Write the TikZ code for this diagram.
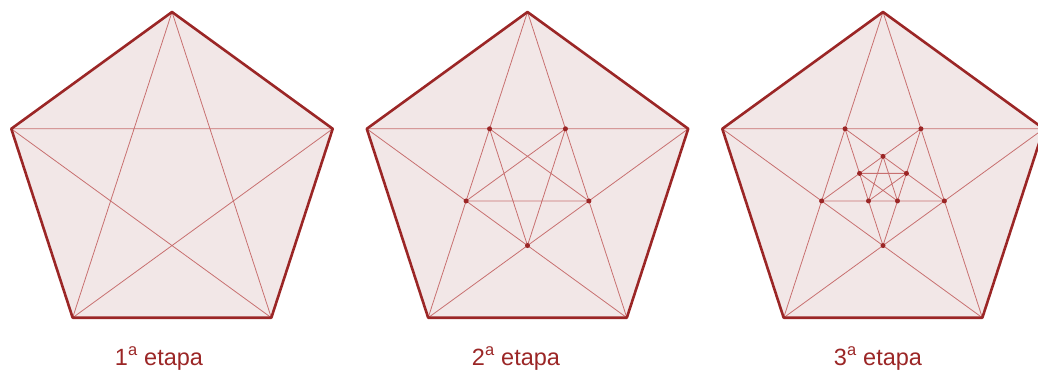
\documentclass[tikz,border=0pt]{standalone}
\usepackage{fontspec}
\setmainfont{Liberation Sans}
\usepackage{tikz}
\usetikzlibrary{calc}
\usepackage{xcolor}
\definecolor{edgeRed}{RGB}{155, 38, 38}
\definecolor{lineRed}{RGB}{200, 112, 112}
\definecolor{fillPink}{RGB}{242, 231, 231}

\begin{document}
\begin{tikzpicture}[x=1pt, y=1pt,
  outer/.style={edgeRed, line width=2.6pt, line join=round},
  inner/.style={lineRed, line width=0.8pt, line join=round},
  vdot/.style={fill=edgeRed},
  etapa/.style={anchor=base, text=edgeRed, font=\fontsize{23.5}{28}\selectfont}]
  \useasboundingbox (0,-370) rectangle (1038,0);
  \clip (0,-370) rectangle (1038,0);

  % Vertices: outer pentagon, inverted inner pentagon, small upright pentagon
  \foreach \i/\cx in {1/172, 2/527.5, 3/883} {
    \foreach \k in {0,...,4} {
      \coordinate (P\i-\k) at ($(\cx,-181)+(90+72*\k:169)$);
      \coordinate (Q\i-\k) at ($(\cx,-181)+(270+72*\k:64.55)$);
      \coordinate (S\i-\k) at ($(\cx,-181)+(90+72*\k:24.66)$);
    }
    \fill[fillPink] (P\i-0) -- (P\i-1) -- (P\i-2) -- (P\i-3) -- (P\i-4) -- cycle;
    \draw[inner] (P\i-0) -- (P\i-2) -- (P\i-4) -- (P\i-1) -- (P\i-3) -- cycle;
    \draw[outer] (P\i-0) -- (P\i-1) -- (P\i-2) -- (P\i-3) -- (P\i-4) -- cycle;
  }

  % Second step: star inside the inner pentagon
  \foreach \i in {2,3} {
    \draw[inner] (Q\i-0) -- (Q\i-2) -- (Q\i-4) -- (Q\i-1) -- (Q\i-3) -- cycle;
  }

  % Third step: one more star
  \draw[inner] (S3-0) -- (S3-2) -- (S3-4) -- (S3-1) -- (S3-3) -- cycle;

  % Points
  \foreach \k in {0,...,4} {
    \fill[vdot] (Q2-\k) circle (2.5);
    \fill[vdot] (Q3-\k) circle (2.5);
    \fill[vdot] (S3-\k) circle (2.5);
  }

  % Labels
  \node[etapa] (lab1) at (159,-365) {1\textsuperscript{a} etapa};
  \node[etapa] (lab2) at (516,-365) {2\textsuperscript{a} etapa};
  \node[etapa] (lab3) at (878,-365) {3\textsuperscript{a} etapa};
\end{tikzpicture}
\end{document}
